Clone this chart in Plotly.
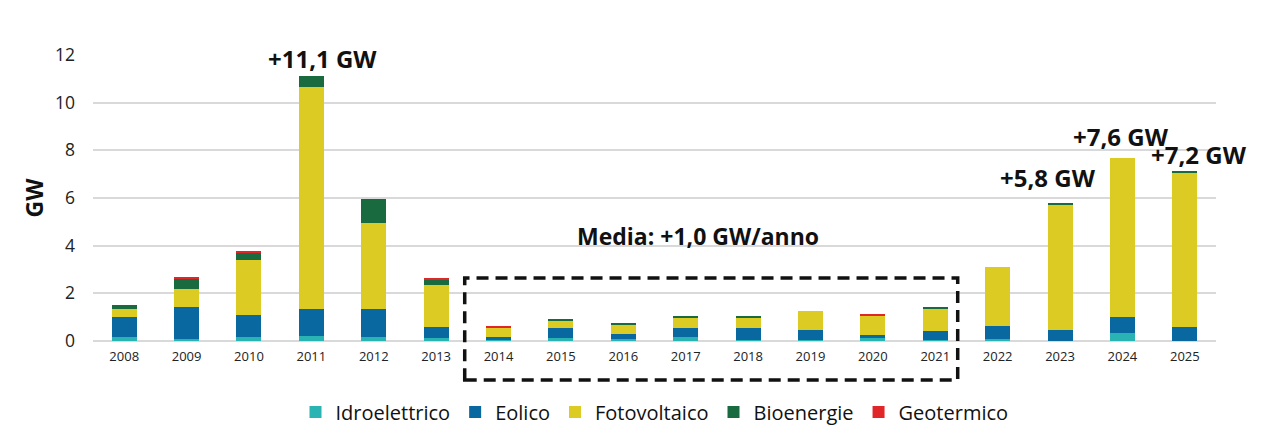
import plotly.graph_objects as go

# annual added capacity (GW) by source
years = [str(y) for y in range(2008, 2026)]
idro = [0.18, 0.07, 0.17, 0.21, 0.15, 0.11, 0.05, 0.11, 0.08, 0.18, 0.06, 0.03, 0.13, 0.03, 0.07, 0.02, 0.34, 0.02]
eolico = [0.81, 1.37, 0.91, 1.12, 1.18, 0.46, 0.10, 0.44, 0.21, 0.37, 0.49, 0.42, 0.14, 0.40, 0.56, 0.43, 0.65, 0.58]
fotovoltaico = [0.34, 0.73, 2.32, 9.31, 3.64, 1.78, 0.42, 0.33, 0.41, 0.42, 0.43, 0.79, 0.78, 0.93, 2.47, 5.26, 6.67, 6.43]
bioenergie = [0.18, 0.45, 0.33, 0.49, 0.99, 0.21, 0.00, 0.03, 0.06, 0.04, 0.05, 0.00, 0.00, 0.05, 0.00, 0.04, 0.00, 0.12]
geotermico = [0.00, 0.07, 0.06, 0.00, 0.00, 0.06, 0.07, 0.00, 0.00, 0.00, 0.00, 0.00, 0.07, 0.00, 0.00, 0.00, 0.00, 0.00]

label_years = ["2011", "2023", "2024", "2025"]
label_texts = ["+11,1 GW", "+5,8 GW", "+7,6 GW", "+7,2 GW"]

series = [
    ("Idroelettrico", idro, "#29b3b2"),
    ("Eolico", eolico, "#0a68a1"),
    ("Fotovoltaico", fotovoltaico, "#dccb23"),
    ("Bioenergie", bioenergie, "#1a6a40"),
    ("Geotermico", geotermico, "#e1262a"),
]

FONT = "Open Sans"

fig = go.Figure()
for name, vals, col in series:
    fig.add_trace(go.Bar(x=years, y=vals, name=name, marker_color=col, marker_line_width=0))

totals = [sum(v) for v in zip(idro, eolico, fotovoltaico, bioenergie, geotermico)]

# label offsets (px) from bar top, as in the original
shifts = {"2011": (11, 17), "2023": (-12, 26), "2024": (-1, 22), "2025": (14, 16)}
for yr, txt in zip(label_years, label_texts):
    i = years.index(yr)
    dx, dy = shifts[yr]
    fig.add_annotation(x=i, y=totals[i], text="<b>" + txt + "</b>", showarrow=False,
                       yanchor="middle", xshift=dx, yshift=dy,
                       font=dict(family=FONT, size=24, color="#111111"))

fig.add_annotation(x=0.539, y=0.304, xref="paper", yref="paper",
                   text="<b>Media: +1,0 GW/anno</b>", showarrow=False,
                   font=dict(family=FONT, size=23, color="#111111"))

# dashed box around 2014-2021
fig.add_shape(type="rect", xref="paper", yref="paper", x0=0.331, x1=0.770, y0=-0.136, y1=0.220,
              line=dict(color="#111111", width=3.5, dash="12px,7px"), fillcolor="rgba(0,0,0,0)")

# the page body adds an 8px offset, margins compensate for it
fig.update_layout(
    barmode="stack",
    bargap=0.6,
    width=1280,
    height=435,
    margin=dict(l=85, r=72, t=47, b=102, autoexpand=False),
    plot_bgcolor="white",
    paper_bgcolor="white",
    font=dict(family=FONT, color="#222222"),
    legend=dict(orientation="h", x=0.5, xanchor="center", y=-0.248, yanchor="middle",
                font=dict(family=FONT, size=20, color="#111111"), traceorder="normal",
                itemwidth=30),
)
fig.update_yaxes(range=[0, 12], dtick=2, showgrid=True, gridcolor="#d9d9d9", gridwidth=1.5,
                 zeroline=True, zerolinecolor="#d9d9d9", zerolinewidth=1.5, showline=False,
                 automargin=False,
                 tickfont=dict(family=FONT, size=17.5, color="#222222"), ticklabelstandoff=17,
                 title=dict(text="<b>GW</b>", font=dict(family=FONT, size=23, color="#111111"),
                            standoff=4))
fig.update_xaxes(type="category", range=[-0.5, len(years) - 0.5], showgrid=False, showline=False,
                 automargin=False,
                 tickfont=dict(family=FONT, size=13, color="#222222"), ticklabelstandoff=6)

fig.write_html("out.html")
